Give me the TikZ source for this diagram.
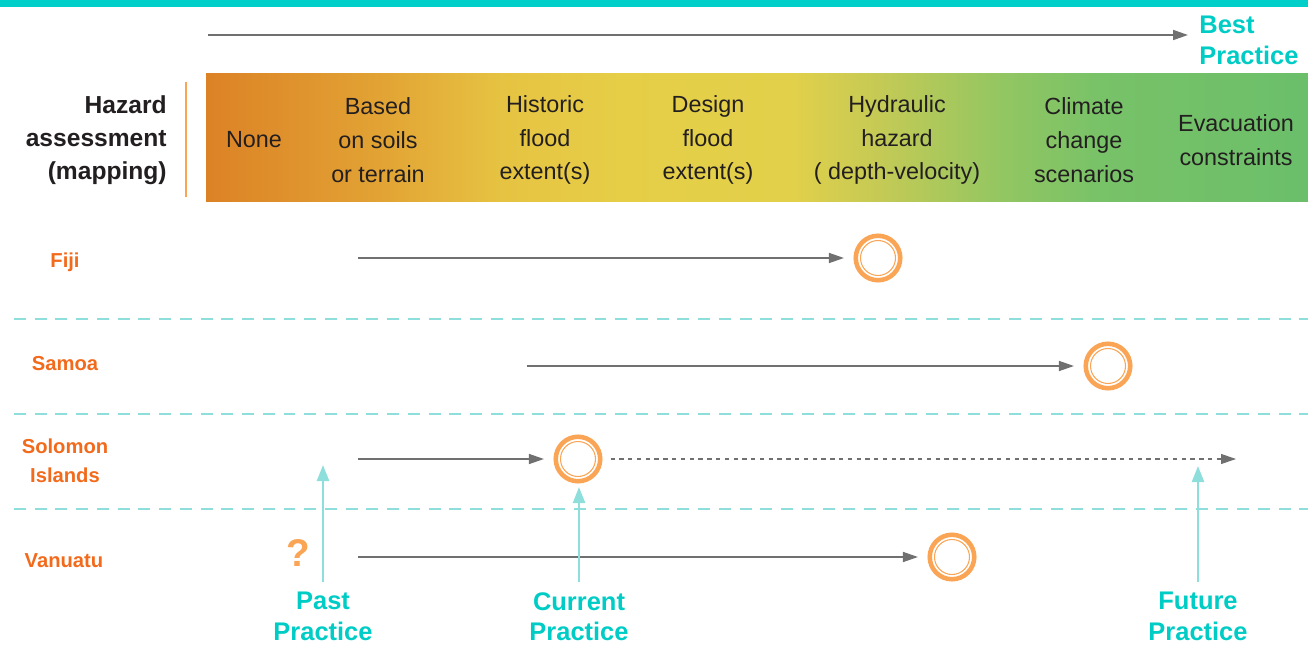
\documentclass[tikz,border=0pt]{standalone}
\usepackage{fontspec}
\setmainfont{Liberation Sans}
\usepackage{tikz}
\usetikzlibrary{arrows.meta}

\definecolor{topteal}{HTML}{00CEC9}
\definecolor{textteal}{HTML}{00CCC6}
\definecolor{lineteal}{HTML}{8EDFDB}
\definecolor{countryorange}{HTML}{F26A1C}
\definecolor{ringorange}{HTML}{F9A555}
\definecolor{arrowgray}{HTML}{707070}
\definecolor{inkblack}{HTML}{231F20}
\definecolor{gA}{HTML}{DC8226}
\definecolor{gB}{HTML}{E2A334}
\definecolor{gC}{HTML}{E6C342}
\definecolor{gD}{HTML}{E6CE47}
\definecolor{gE}{HTML}{E2D04A}
\definecolor{gF}{HTML}{C4CA55}
\definecolor{gG}{HTML}{93C662}
\definecolor{gH}{HTML}{78C268}
\definecolor{gI}{HTML}{6BBF6A}

\tikzset{
	head/.style={align=center, font=\fontsize{13.3}{19.3}\selectfont, text=inkblack},
	country/.style={align=center, font=\bfseries\fontsize{11.5}{16.4}\selectfont, text=countryorange},
	practice/.style={align=center, font=\bfseries\fontsize{14.5}{17.4}\selectfont, text=textteal, inner sep=0pt},
	ring/.style={circle, draw=ringorange, line width=2.6pt, minimum size=0.89cm, inner sep=0pt,
		path picture={\draw[ringorange, line width=0.6pt] (path picture bounding box.center) circle (0.35cm);}},
	track/.style={arrowgray, line width=0.8pt, -{Triangle[length=0.3cm,width=0.2cm]}, shorten >=0.19cm},
	later/.style={track, line width=0.6pt, dash pattern=on 2.5pt off 2.5pt, shorten >=0pt, shorten <=0.16cm},
	pointer/.style={lineteal, line width=1.4pt, -{Triangle[length=0.32cm,width=0.24cm]}, shorten <=0.2cm},
	divider/.style={draw=lineteal, line width=1.7pt, dash pattern=on 6.8pt off 5pt}
}

\begin{document}
\begin{tikzpicture}[x=0.02cm, y=-0.02cm]

	\useasboundingbox (0,0) rectangle (1308,645);
	\fill[topteal] (0,0) rectangle (1308,7);

	\fill[left color=gA, right color=gB] (206,74) rectangle (381,202);
	\fill[left color=gB, right color=gC] (380,74) rectangle (501,202);
	\fill[left color=gC, right color=gD] (500,74) rectangle (621,202);
	\fill[left color=gD, right color=gE] (620,74) rectangle (791,202);
	\fill[left color=gE, right color=gF] (790,74) rectangle (881,202);
	\fill[left color=gF, right color=gG] (880,74) rectangle (1001,202);
	\fill[left color=gG, right color=gH] (1000,74) rectangle (1101,202);
	\fill[left color=gH, right color=gI] (1100,74) rectangle (1308,202);

	\draw[ringorange, line width=1.5pt] (186,82) -- (186,197);

	\draw[divider] (14,319) -- (1308,319);
	\draw[divider] (14,414) -- (1308,414);
	\draw[divider] (14,509) -- (1308,509);

	\node[font=\bfseries\fontsize{14}{18.7}\selectfont, text=inkblack, align=right, anchor=east, inner sep=0pt] (hazard) at (167,140) {Hazard\\assessment\\(mapping)};

	\node[head] (none) at (254,140) {None};
	\node[head] (soils) at (378,140) {Based\\on soils\\or terrain};
	\node[head] (historic) at (545,140) {Historic\\flood\\extent(s)};
	\node[head] (design) at (708,140) {Design\\flood\\extent(s)};
	\node[head] (hydraulic) at (897,140) {Hydraulic\\hazard\\( depth-velocity)};
	\node[head] (climate) at (1084,140) {Climate\\change\\scenarios};
	\node[head] (evac) at (1236,140) {Evacuation\\constraints};

	\node[practice, anchor=north west, align=left] (best) at (1199,16) {Best\\Practice};
	\coordinate (scaleS) at (208,35);
	\coordinate (scaleE) at (1188,35);

	\node[country] (fiji) at (65,262) {Fiji};
	\node[country] (samoa) at (65,364) {Samoa};
	\node[country] (solomon) at (65,461) {Solomon\\Islands};
	\node[country] (vanuatu) at (64,561) {Vanuatu};

	\coordinate (fijiS) at (358,258);
	\node[ring] (fijiC) at (878,258) {};
	\coordinate (samoaS) at (527,366);
	\node[ring] (samoaC) at (1108,366) {};
	\coordinate (solomonS) at (358,459);
	\node[ring] (solomonC) at (578,459) {};
	\coordinate (solomonE) at (1236,459);
	\coordinate (vanuatuS) at (358,557);
	\node[ring] (vanuatuC) at (952,557) {};

	\node[font=\bfseries\fontsize{22}{22}\selectfont, text=ringorange] (unknown) at (298,553) {?};

	\node[practice, anchor=north] (past) at (323,592) {Past\\Practice};
	\node[practice, anchor=north] (current) at (579,592) {Current\\Practice};
	\node[practice, anchor=north] (future) at (1198,592) {Future\\Practice};
	\coordinate (pastT) at (323,465);
	\coordinate (currentT) at (579,487);
	\coordinate (futureT) at (1198,466);

	\path[track, line width=1pt, shorten >=0pt] (scaleS) edge (scaleE);
	\path[track] (fijiS) edge (fijiC);
	\path[track] (samoaS) edge (samoaC);
	\path[track] (solomonS) edge (solomonC);
	\path[later] (solomonC) edge (solomonE);
	\path[track] (vanuatuS) edge (vanuatuC);

	\path[pointer] (past.north) edge (pastT);
	\path[pointer] (current.north) edge (currentT);
	\path[pointer] (future.north) edge (futureT);

\end{tikzpicture}
\end{document}
